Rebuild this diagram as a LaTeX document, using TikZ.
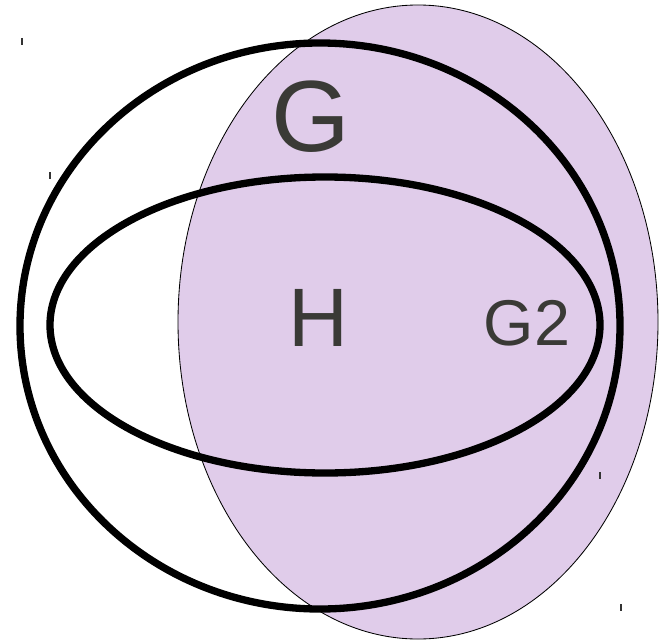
\documentclass[tikz,border=0pt]{standalone}
\usepackage{fontspec}
\setmainfont{Liberation Sans}
\usepackage{xcolor}
\usepackage{tikz}
\usetikzlibrary{positioning, calc}

\definecolor{setfill}{RGB}{224,204,234}
\definecolor{labelgray}{RGB}{58,58,54}

\begin{document}
\begin{tikzpicture}[
    x=0.025cm, y=-0.025cm,
    bound/.style={line width=5.2pt, draw=black},
    tag/.style={text=labelgray, inner sep=0pt},
    tick/.style={line width=0.8pt, draw=black!80}
]
    \useasboundingbox (0,0) rectangle (668,643);

    % shaded set G2
    \draw[fill=setfill, line width=0.6pt] (418,322) ellipse [x radius=240, y radius=317];

    % G and H
    \draw[bound] (320,326) ellipse [x radius=300, y radius=283];
    \draw[bound] (325,325) ellipse [x radius=275, y radius=148];

    \node[tag, font=\fontsize{72}{72}\selectfont] (g) at (311,117) {G};
    \node[tag, font=\fontsize{59}{59}\selectfont] (h) at (318,318) {H};
    \node[tag, font=\fontsize{46}{46}\selectfont] (g2) at (527,323) {G2};

    % little marks
    \draw[tick] (22,38) -- (22,45);
    \draw[tick] (50,172) -- (50,179);
    \draw[tick] (600,472) -- (600,479);
    \draw[tick] (621,604) -- (621,611);
\end{tikzpicture}
\end{document}
